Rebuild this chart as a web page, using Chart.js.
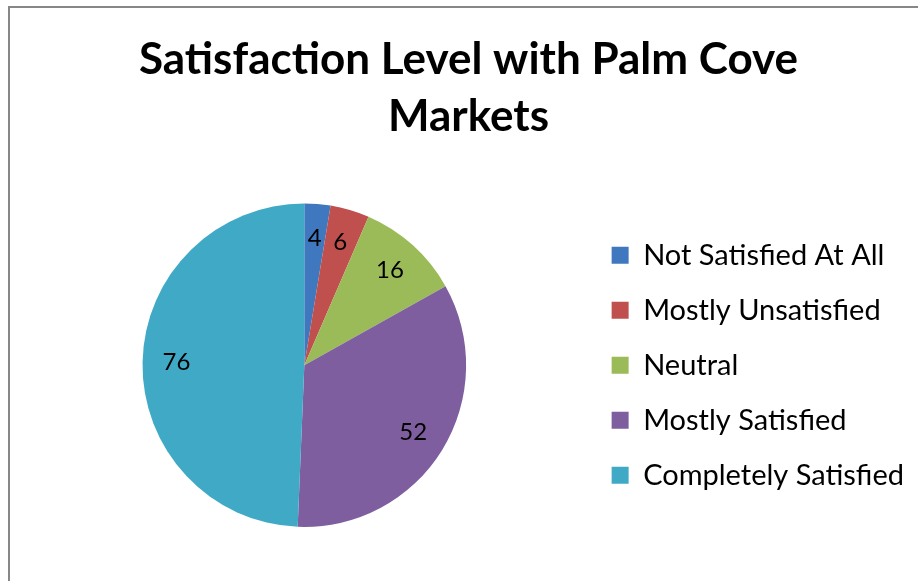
<!DOCTYPE html>
<html>
<head>
<meta charset="utf-8">
<script src="https://cdn.jsdelivr.net/npm/chart.js@4/dist/chart.umd.min.js"></script>
<style>
  html,body{margin:0;padding:0;background:#fff;overflow:hidden;}
  #frame{position:absolute;left:8px;top:6px;width:1000px;height:700px;border:2px solid #878787;}
  #c{position:absolute;left:0;top:0;}
</style>
</head>
<body>
<div id="frame"><canvas id="c" width="916" height="573"></canvas></div>
<script>
const titleLines = ['Satisfaction Level with Palm Cove', 'Markets'];
const categories = ['Not Satisfied At All', 'Mostly Unsatisfied', 'Neutral', 'Mostly Satisfied', 'Completely Satisfied'];
const counts = [4, 6, 16, 52, 76];
const colors = ['#3F78BE', '#C0504D', '#9BBB59', '#7E5E9F', '#40AAC6'];

// numbers inside the slices, like Excel's data labels
const sliceLabels = {
  id: 'sliceLabels',
  afterDatasetsDraw(chart){
    const ctx = chart.ctx;
    const meta = chart.getDatasetMeta(0);
    ctx.save();
    ctx.font = '24px Lato';
    ctx.fillStyle = '#000';
    ctx.textAlign = 'center';
    ctx.textBaseline = 'middle';
    meta.data.forEach((arc, i) => {
      const p = arc.getProps(['x','y','startAngle','endAngle','outerRadius'], true);
      const mid = (p.startAngle + p.endAngle) / 2;
      const r = p.outerRadius * 0.79;
      ctx.fillText(String(counts[i]), p.x + Math.cos(mid) * r, p.y + Math.sin(mid) * r);
    });
    ctx.restore();
  }
};

new Chart(document.getElementById('c'), {
  type: 'pie',
  data: {
    labels: categories,
    datasets: [{ data: counts, backgroundColor: colors, borderWidth: 0 }]
  },
  options: {
    responsive: false,
    animation: false,
    layout: { padding: { left: 13, right: 12, top: 0, bottom: 54 } },
    plugins: {
      title: {
        display: true,
        text: titleLines,
        color: '#000',
        font: { family: 'Lato', size: 44, weight: 'bold', lineHeight: 1.3 },
        padding: { top: 23, bottom: 58 }
      },
      legend: {
        position: 'right',
        fullSize: false,
        labels: {
          color: '#000',
          font: { family: 'Lato', size: 29 },
          boxWidth: 17,
          boxHeight: 17,
          padding: 26
        }
      },
      tooltip: { enabled: false }
    }
  },
  plugins: [sliceLabels]
});
</script>
</body>
</html>
